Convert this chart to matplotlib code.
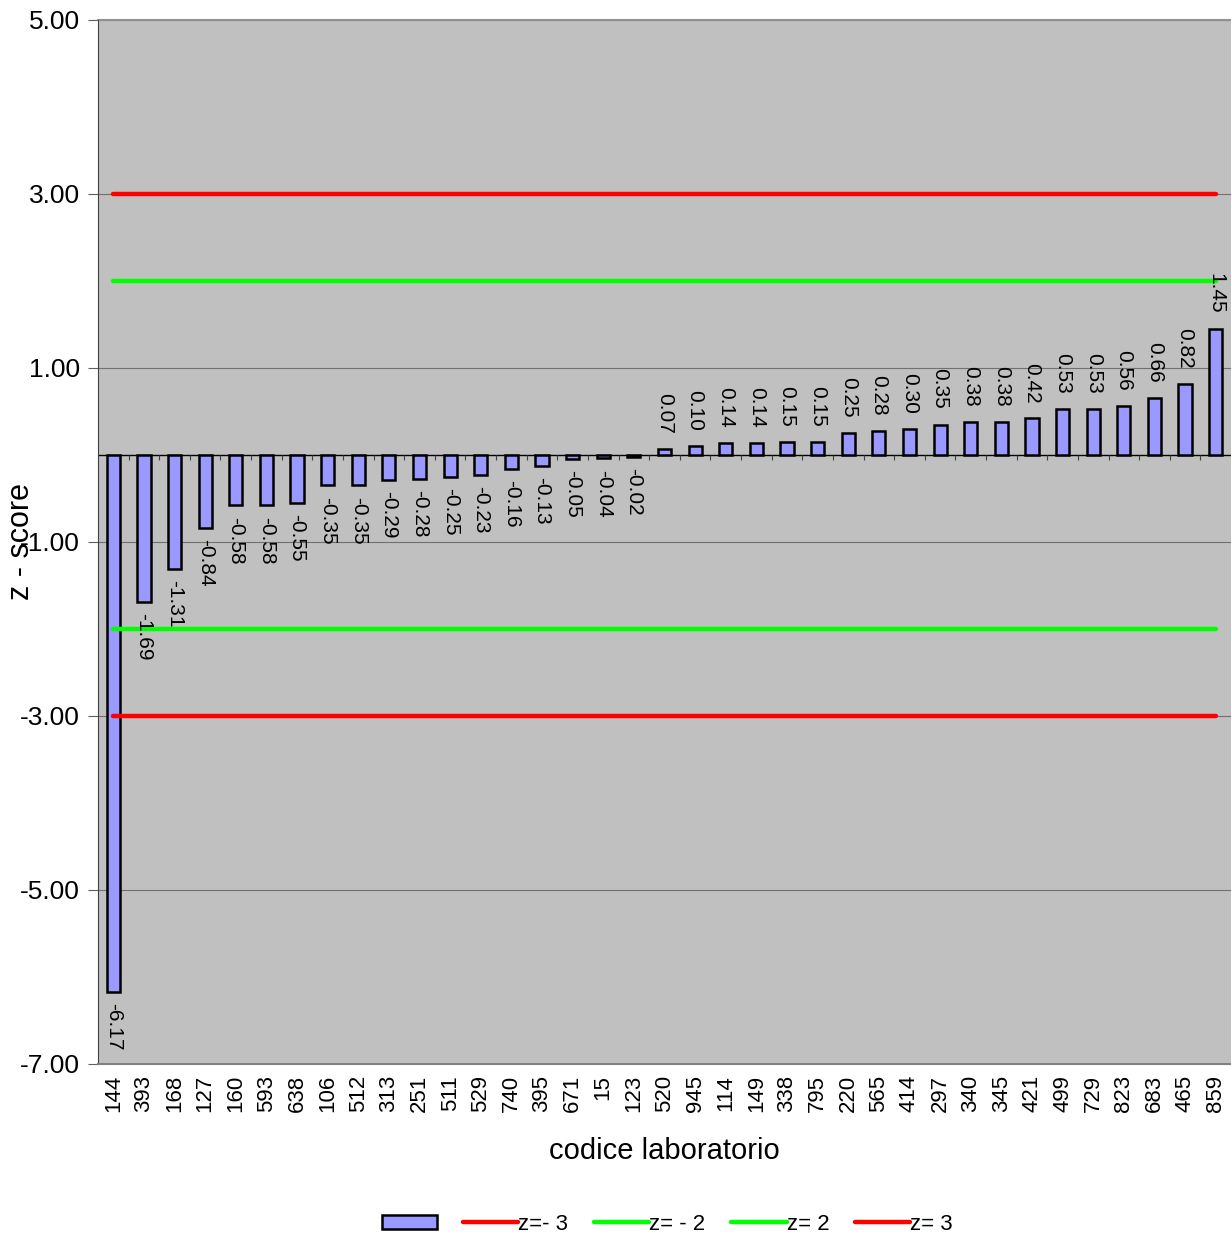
import numpy as np
import matplotlib.pyplot as plt

plt.rcParams['font.family'] = ['Liberation Sans', 'DejaVu Sans']

labs = ['144', '393', '168', '127', '160', '593', '638', '106', '512', '313',
        '251', '511', '529', '740', '395', '671', '15', '123', '520', '945',
        '114', '149', '338', '795', '220', '565', '414', '297', '340', '345',
        '421', '499', '729', '823', '683', '465', '859']
zscores = [-6.17, -1.69, -1.31, -0.84, -0.58, -0.58, -0.55, -0.35, -0.35, -0.29,
           -0.28, -0.25, -0.23, -0.16, -0.13, -0.05, -0.04, -0.02, 0.07, 0.10,
           0.14, 0.14, 0.15, 0.15, 0.25, 0.28, 0.30, 0.35, 0.38, 0.38,
           0.42, 0.53, 0.53, 0.56, 0.66, 0.82, 1.45]
limits = [-3, -2, 2, 3]
limit_names = ['z=- 3', 'z= - 2', 'z= 2', 'z= 3']
limit_cols = ['#FF0000', '#00FF00', '#00FF00', '#FF0000']
yticks = [5, 3, 1, -1, -3, -5, -7]

x = np.arange(len(labs))

fig = plt.figure(figsize=(12.31, 12.34), dpi=100)
ax = fig.add_axes([0.0796, 0.1378, 0.9204, 0.8460])
ax.set_facecolor('#C0C0C0')

ax.set_ylim(-7, 5)
ax.set_xlim(-0.5, len(labs) - 0.5)
ax.set_yticks(yticks)
ax.set_yticklabels(['%.2f' % v for v in yticks], fontsize=19)
ax.yaxis.grid(True, color='#707070', lw=0.8)
ax.set_axisbelow(True)

bars = ax.bar(x, zscores, width=0.43, color='#9999FF', edgecolor='black', lw=1.8, zorder=3)

# zero line with category separators
ax.axhline(0, color='black', lw=1.0, zorder=2)
ax.vlines(x[:-1] + 0.5, -0.06, 0, color='#404040', lw=0.8, zorder=2)

# limit lines
handles = [bars]
names = ['']
for v, n, c in zip(limits, limit_names, limit_cols):
    ln, = ax.plot([x[0], x[-1]], [v, v], color=c, lw=3.2, solid_capstyle='round', zorder=4)
    handles.append(ln)
    names.append(n)

# value labels
for xi, v in zip(x, zscores):
    if v < 0:
        ax.annotate('%.2f' % v, (xi, v), xytext=(0, -8), textcoords='offset points',
                    rotation=-90, ha='center', va='top', fontsize=15, zorder=5)
    else:
        ax.annotate('%.2f' % v, (xi, v), xytext=(0, 11), textcoords='offset points',
                    rotation=-90, ha='center', va='bottom', fontsize=15, zorder=5)

ax.set_xticks(x)
ax.set_xticklabels(labs, rotation=90, fontsize=16)
ax.tick_params(axis='x', length=0, pad=8)
ax.tick_params(axis='y', length=7, color='#606060', pad=6)

for s in ['top', 'right']:
    ax.spines[s].set_visible(False)
ax.spines['left'].set_color('#404040')
ax.spines['bottom'].set_color('#808080')
ax.spines['bottom'].set_linewidth(1.5)
ax.plot([-0.5, len(labs) - 0.5], [5, 5], color='#909090', lw=1.5, clip_on=False, zorder=1)

ax.set_xlabel('codice laboratorio', fontsize=21, labelpad=18)
ax.set_ylabel('z - score', fontsize=22)
ax.yaxis.set_label_coords(-0.055, 0.5)

fig.legend(handles, names, loc='center', bbox_to_anchor=(0.542, 0.008), ncol=5,
           frameon=False, fontsize=16, handlelength=2.5, handleheight=0.6,
           handletextpad=0.0, columnspacing=1.15)

fig.savefig('out.png', dpi=100)
